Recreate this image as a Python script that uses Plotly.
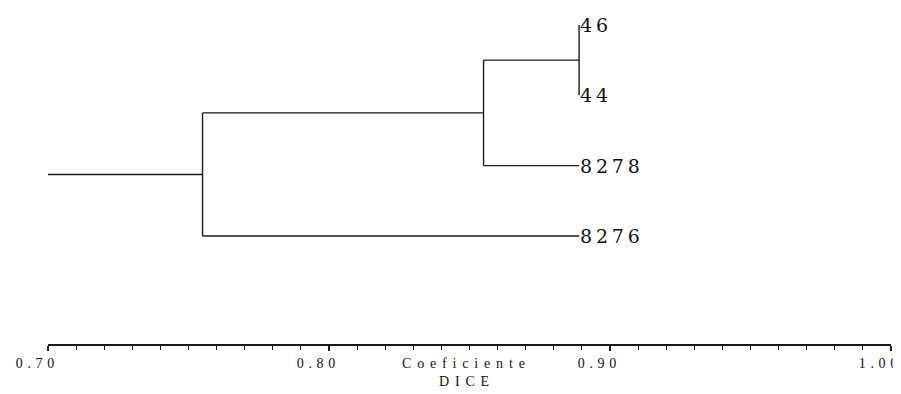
import plotly.graph_objects as go

# ---- data ----
leaf_labels = ["46", "44", "8278", "8276"]          # top to bottom
leaf_level = 0.889                                   # where the leaves end
# merges: (left cluster, right cluster, similarity)
merges = [
    (("46",), ("44",), 0.889),
    (("46", "44"), ("8278",), 0.855),
    (("46", "44", "8278"), ("8276",), 0.755),
]
root_start = 0.70
tick_values = [0.70, 0.80, 0.90, 1.00]
tick_labels = ["0.70", "0.80", "0.90", "1.00"]
axis_title = ["Coeficiente", "DICE"]


def spaced(s, sep="\u2009"):
    return sep.join(list(s))


# ---- build dendrogram segments ----
ypos = {(lab,): -i for i, lab in enumerate(leaf_labels)}
xpos = {(lab,): leaf_level for lab in leaf_labels}

xs, ys = [], []
for a, b, h in merges:
    ya, yb = ypos[a], ypos[b]
    for c in (a, b):
        xs += [xpos[c], h, None]
        ys += [ypos[c], ypos[c], None]
    xs += [h, h, None]
    ys += [ya, yb, None]
    node = a + b
    ypos[node] = (ya + yb) / 2
    xpos[node] = h
root = merges[-1][0] + merges[-1][1]
xs += [root_start, xpos[root], None]
ys += [ypos[root], ypos[root], None]

fig = go.Figure()
fig.add_trace(go.Scatter(x=xs, y=ys, mode="lines",
                         line=dict(color="#1a1a1a", width=1.4),
                         hoverinfo="skip", showlegend=False, cliponaxis=False))

annotations = []
for lab in leaf_labels:
    annotations.append(dict(
        text=spaced(lab, "\u2009"), x=leaf_level, y=ypos[(lab,)],
        xref="x", yref="y", xanchor="left", yanchor="middle",
        showarrow=False, xshift=-1,
        font=dict(family="DejaVu Serif", size=19, color="#111")))

# page body has an 8px margin, so the figure is laid out 8px smaller
PLOT_H = 336
title_font = dict(family="Liberation Serif", size=14, color="#111")
annotations += [
    dict(text=spaced(axis_title[0], "\u2004\u200a"), xref="paper", yref="paper",
         x=(463 - 48) / 843, y=-19 / PLOT_H, xanchor="center", yanchor="middle",
         showarrow=False, font=title_font),
    dict(text=spaced(axis_title[1], "\u2004\u200a"), xref="paper", yref="paper",
         x=(464 - 48) / 843, y=-37 / PLOT_H, xanchor="center", yanchor="middle",
         showarrow=False, font=title_font),
]

fig.update_layout(
    width=893, height=386,
    margin=dict(l=40, r=10, t=0, b=50, autoexpand=False),
    paper_bgcolor="white", plot_bgcolor="white",
    xaxis=dict(
        range=[0.70, 1.00], automargin=False,
        showgrid=False, zeroline=False,
        showline=True, linecolor="#1a1a1a", linewidth=2,
        ticks="outside", ticklen=5, tickwidth=1.5, tickcolor="#1a1a1a",
        tickmode="array", tickvals=tick_values,
        ticktext=[spaced(t, "\u2004") for t in tick_labels],
        ticklabelshift=-13, ticklabelstandoff=0,
        tickfont=dict(family="Liberation Serif", size=14, color="#111"),
        minor=dict(dtick=0.01, tick0=0.70, ticks="outside", ticklen=4,
                   tickwidth=1.2, tickcolor="#1a1a1a", showgrid=False),
    ),
    yaxis=dict(range=[-4.5358, 0.2417], visible=False, automargin=False),
    annotations=annotations,
)

fig.write_html("out.html")
